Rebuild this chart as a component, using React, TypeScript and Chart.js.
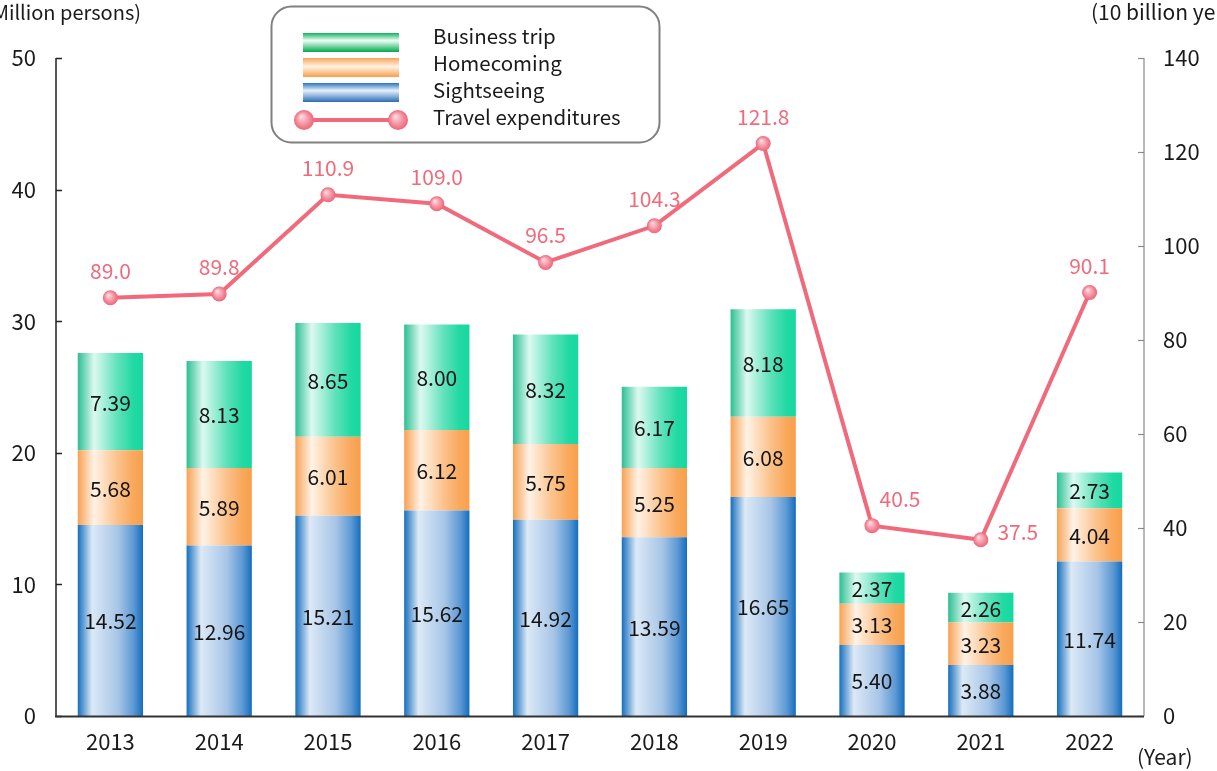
import React, { useEffect, useRef } from "react";
import { Chart, registerables } from "chart.js";

Chart.register(...registerables);

const years = ["2013", "2014", "2015", "2016", "2017", "2018", "2019", "2020", "2021", "2022"];
const sightseeing = [14.52, 12.96, 15.21, 15.62, 14.92, 13.59, 16.65, 5.4, 3.88, 11.74];
const homecoming = [5.68, 5.89, 6.01, 6.12, 5.75, 5.25, 6.08, 3.13, 3.23, 4.04];
const businessTrip = [7.39, 8.13, 8.65, 8.0, 8.32, 6.17, 8.18, 2.37, 2.26, 2.73];
const travelExpenditures = [89.0, 89.8, 110.9, 109.0, 96.5, 104.3, 121.8, 40.5, 37.5, 90.1];
const leftTicks = [0, 10, 20, 30, 40, 50];
const rightTicks = [0, 20, 40, 60, 80, 100, 120, 140];

const FONT = "'Noto Sans CJK JP', 'Noto Sans', sans-serif";
const LINE_COLOR = "#f06a7b";
const BAR_PCT = 0.6;

type Stop = [number, string];
const blueStops: Stop[] = [[0, "#166fbf"], [0.22, "#dce9f6"], [0.62, "#a7c5e7"], [0.86, "#5b98d4"], [1, "#156dbd"]];
const orangeStops: Stop[] = [[0, "#f7a254"], [0.25, "#fff2e6"], [0.6, "#fbc38d"], [0.85, "#f9a85c"], [1, "#f8a04b"]];
const greenStops: Stop[] = [[0, "#2cbf92"], [0.25, "#dcf9f0"], [0.6, "#62e2bc"], [0.85, "#22d9a3"], [1, "#14d9a0"]];

function barGradient(chart: any, i: number, stops: Stop[]) {
  const xs = chart.scales && chart.scales.x;
  if (!xs || !xs.width) return stops[0][1];
  const cx = xs.getPixelForValue(i);
  const w = (xs.width / years.length) * BAR_PCT;
  const g = chart.ctx.createLinearGradient(cx - w / 2, 0, cx + w / 2, 0);
  stops.forEach(([o, c]) => g.addColorStop(o, c));
  return g;
}

function sphere(ctx: CanvasRenderingContext2D, x: number, y: number, r: number) {
  const g = ctx.createRadialGradient(x - r * 0.3, y - r * 0.4, 0, x, y, r);
  g.addColorStop(0, "#ffe3e8");
  g.addColorStop(0.5, "#f7a0ad");
  g.addColorStop(1, "#ec6577");
  ctx.fillStyle = g;
  ctx.beginPath();
  ctx.arc(x, y, r, 0, Math.PI * 2);
  ctx.fill();
}

const overlayPlugin = {
  id: "overlay",
  afterDatasetsDraw(chart: any) {
    const ctx: CanvasRenderingContext2D = chart.ctx;
    ctx.save();
    // bar value labels
    ctx.font = `21px ${FONT}`;
    ctx.fillStyle = "#141414";
    ctx.textAlign = "center";
    ctx.textBaseline = "middle";
    [0, 1, 2].forEach((di) => {
      const meta = chart.getDatasetMeta(di);
      const vals = chart.data.datasets[di].data as number[];
      meta.data.forEach((el: any, i: number) => {
        const cy = (el.y + el.base) / 2;
        ctx.fillText(vals[i].toFixed(2), el.x, cy + 1);
      });
    });
    // line points (spheres) and labels
    const lineMeta = chart.getDatasetMeta(3);
    const offsets: Record<number, [number, number]> = { 7: [28, -27], 8: [37, -8] };
    lineMeta.data.forEach((el: any) => {
      sphere(ctx, el.x, el.y, 7.5);
    });
    ctx.font = `21px ${FONT}`;
    ctx.fillStyle = LINE_COLOR;
    lineMeta.data.forEach((el: any, i: number) => {
      const off = offsets[i] || [0, -27];
      ctx.fillText(travelExpenditures[i].toFixed(1), el.x + off[0], el.y + off[1]);
    });
    ctx.restore();
  },
  afterDraw(chart: any) {
    const ctx: CanvasRenderingContext2D = chart.ctx;
    const { y, y1 } = chart.scales;
    const a = chart.chartArea;
    ctx.save();
    // axes
    ctx.lineWidth = 1.5;
    ctx.strokeStyle = "#222";
    ctx.beginPath();
    ctx.moveTo(a.left, a.top);
    ctx.lineTo(a.left, a.bottom);
    ctx.stroke();
    leftTicks.forEach((v) => {
      const py = Math.round(y.getPixelForValue(v)) + 0.5;
      ctx.beginPath();
      ctx.moveTo(a.left, py);
      ctx.lineTo(a.left + 6, py);
      ctx.stroke();
    });
    ctx.strokeStyle = "#8a8a8a";
    ctx.lineWidth = 1.2;
    ctx.beginPath();
    ctx.moveTo(a.right, a.top);
    ctx.lineTo(a.right, a.bottom);
    ctx.stroke();
    rightTicks.forEach((v) => {
      const py = Math.round(y1.getPixelForValue(v)) + 0.5;
      ctx.beginPath();
      ctx.moveTo(a.right, py);
      ctx.lineTo(a.right - 6, py);
      ctx.stroke();
    });
    ctx.strokeStyle = "#333";
    ctx.lineWidth = 2;
    ctx.beginPath();
    ctx.moveTo(a.left - 1, a.bottom + 0.5);
    ctx.lineTo(a.right, a.bottom + 0.5);
    ctx.stroke();

    // axis titles
    ctx.font = `20px ${FONT}`;
    ctx.fillStyle = "#1a1a1a";
    ctx.textBaseline = "middle";
    ctx.textAlign = "right";
    ctx.fillText("(Million persons)", 141, 12);
    ctx.font = `21px ${FONT}`;
    ctx.textAlign = "left";
    ctx.fillText("(10 billion yen)", 1091, 12);
    ctx.fillText("(Year)", 1137, 757);

    // legend
    const lx = 271.5, ly = 6.5, lw = 388, lh = 136, r = 20;
    ctx.beginPath();
    ctx.moveTo(lx + r, ly);
    ctx.arcTo(lx + lw, ly, lx + lw, ly + lh, r);
    ctx.arcTo(lx + lw, ly + lh, lx, ly + lh, r);
    ctx.arcTo(lx, ly + lh, lx, ly, r);
    ctx.arcTo(lx, ly, lx + lw, ly, r);
    ctx.closePath();
    ctx.fillStyle = "#ffffff";
    ctx.fill();
    ctx.strokeStyle = "#808080";
    ctx.lineWidth = 2;
    ctx.stroke();

    const sw = (yTop: number, stops: Stop[]) => {
      const g = ctx.createLinearGradient(0, yTop, 0, yTop + 19);
      stops.forEach(([o, c]) => g.addColorStop(o, c));
      ctx.fillStyle = g;
      ctx.fillRect(303, yTop, 96, 19);
    };
    sw(33, [[0, "#14b160"], [0.4, "#effff6"], [1, "#00a84f"]]);
    sw(58, [[0, "#f8a458"], [0.45, "#fff3e6"], [1, "#f8a048"]]);
    sw(83, [[0, "#2a76c0"], [0.4, "#e6f0fa"], [1, "#2a6db5"]]);
    ctx.strokeStyle = LINE_COLOR;
    ctx.lineWidth = 4;
    ctx.beginPath();
    ctx.moveTo(304, 120);
    ctx.lineTo(398, 120);
    ctx.stroke();
    sphere(ctx, 304, 120, 10);
    sphere(ctx, 398, 120, 10);

    ctx.font = `20.5px ${FONT}`;
    ctx.fillStyle = "#1a1a1a";
    ctx.textAlign = "left";
    const labels = ["Business trip", "Homecoming", "Sightseeing", "Travel expenditures"];
    [36, 63, 90, 117].forEach((ty, i) => ctx.fillText(labels[i], 433, ty));
    ctx.restore();
  },
};

export default function App() {
  const ref = useRef<HTMLCanvasElement | null>(null);
  useEffect(() => {
    document.body.style.margin = "0";
    const canvas = ref.current!;
    const chart = new Chart(canvas, {
      type: "bar",
      data: {
        labels: years,
        datasets: [
          {
            type: "bar",
            label: "Sightseeing",
            data: sightseeing,
            backgroundColor: (c: any) => barGradient(c.chart, c.dataIndex, blueStops),
            borderWidth: 0,
            barPercentage: BAR_PCT,
            categoryPercentage: 1,
            stack: "s",
            order: 2,
          },
          {
            type: "bar",
            label: "Homecoming",
            data: homecoming,
            backgroundColor: (c: any) => barGradient(c.chart, c.dataIndex, orangeStops),
            borderWidth: 0,
            barPercentage: BAR_PCT,
            categoryPercentage: 1,
            stack: "s",
            order: 2,
          },
          {
            type: "bar",
            label: "Business trip",
            data: businessTrip,
            backgroundColor: (c: any) => barGradient(c.chart, c.dataIndex, greenStops),
            borderWidth: 0,
            barPercentage: BAR_PCT,
            categoryPercentage: 1,
            stack: "s",
            order: 2,
          },
          {
            type: "line",
            label: "Travel expenditures",
            data: travelExpenditures,
            yAxisID: "y1",
            borderColor: LINE_COLOR,
            borderWidth: 4,
            pointRadius: 0,
            pointHoverRadius: 0,
            tension: 0,
            order: 0,
          } as any,
        ],
      },
      options: {
        animation: false,
        responsive: true,
        maintainAspectRatio: false,
        layout: { padding: { top: 58, left: 0, right: 0, bottom: 0 } },
        plugins: { legend: { display: false }, tooltip: { enabled: false } },
        scales: {
          x: {
            stacked: true,
            grid: { display: false, drawTicks: false },
            border: { display: false },
            ticks: { color: "#1a1a1a", font: { family: FONT, size: 22 }, padding: 12, maxRotation: 0 },
            afterFit: (s: any) => { s.height = 55; },
          },
          y: {
            stacked: true,
            position: "left",
            min: 0,
            max: 50,
            grid: { display: false, drawTicks: false },
            border: { display: false },
            afterBuildTicks: (s: any) => { s.ticks = leftTicks.map((v) => ({ value: v })); },
            ticks: { color: "#1a1a1a", font: { family: FONT, size: 22 }, padding: 20 },
            afterFit: (s: any) => { s.width = 56; },
          },
          y1: {
            position: "right",
            min: 0,
            max: 140,
            grid: { display: false, drawTicks: false },
            border: { display: false },
            afterBuildTicks: (s: any) => { s.ticks = rightTicks.map((v) => ({ value: v })); },
            ticks: { color: "#1a1a1a", font: { family: FONT, size: 22 }, padding: 19 },
            afterFit: (s: any) => { s.width = 73; },
          },
        },
      },
      plugins: [overlayPlugin],
    });
    return () => chart.destroy();
  }, []);
  return (
    <div style={{ position: "fixed", left: 0, top: 0, width: 1217, height: 771, background: "#fff" }}>
      <canvas ref={ref} />
    </div>
  );
}
